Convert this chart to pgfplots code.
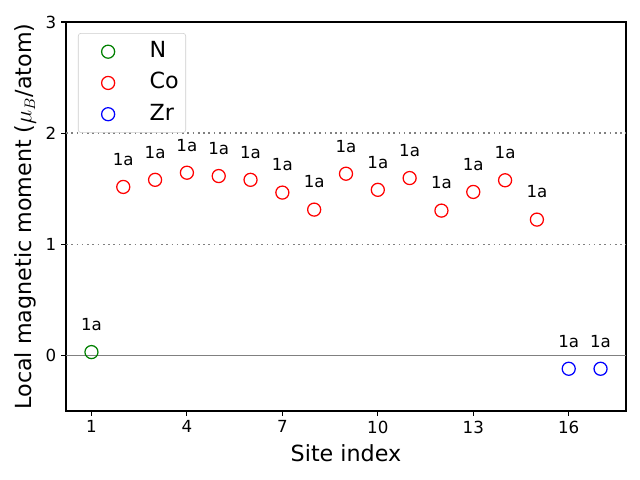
\documentclass[border=0pt]{standalone}
\usepackage{pgfplots}
\pgfplotsset{compat=1.18}
\usepackage{fontspec}
\setmainfont{DejaVu Sans}
\definecolor{mplgreen}{RGB}{0,128,0}
\pgfplotsset{mylegend/.style={legend image code/.code={\path (0cm,0cm) (1.6cm,0cm); \draw[mark repeat=2,mark phase=2] plot coordinates {(0cm,0cm)(0.6cm,0cm)(1.2cm,0cm)};}}}
\begin{document}
\begin{tikzpicture}
\path[use as bounding box] (-47.52pt,-49.68pt) rectangle (413.28pt,295.92pt);
\begin{axis}[
  at={(0,0)}, anchor=south west,
  scale only axis, width=403.2pt, height=280.08pt,
  xmin=0.2, xmax=17.8, ymin=-0.5, ymax=3,
  xtick={1,4,7,10,13,16}, ytick={0,1,2,3},
  tick align=outside, xtick pos=left, ytick pos=left,
  major tick length=3.5pt,
  tick style={black, line width=0.8pt},
  axis line style={line width=0.8pt},
  /pgf/number format/assume math mode=true,
  ticklabel style={font=\fontsize{12}{14}\selectfont},
  xlabel={Site index}, ylabel={Local magnetic moment ($\mu_B$/atom)},
  label style={font=\fontsize{16}{19}\selectfont},
  xlabel style={yshift=-1pt},
  ylabel style={yshift=0pt},
  legend style={at={(0.0214,0.9717)}, anchor=north west,
    draw=black!20, rounded corners=2pt, fill=white, fill opacity=0.8, text opacity=1,
    font=\fontsize{16}{16}\selectfont, row sep=6pt,
    inner xsep=4pt, inner ysep=5pt,
    nodes={inner sep=1pt, text height=11.5pt, text depth=3pt}},
  legend cell align=left,
  nodes near coords={1a},
  nodes near coords style={anchor=base, inner sep=0pt, yshift=15.6pt, text=black, font=\fontsize{12}{14}\selectfont},
  clip=false,
]
\draw[gray, line width=1.1pt, dash pattern=on 1.2pt off 2.6pt] (axis cs:0.2,1) -- (axis cs:17.8,1);
\draw[gray, line width=1.1pt, dash pattern=on 1.2pt off 2.6pt] (axis cs:0.2,2) -- (axis cs:17.8,2);
\draw[gray, line width=1.1pt] (axis cs:0.2,0) -- (axis cs:17.8,0);
\addplot[only marks, mylegend, mark=o, mark size=4.7pt, mplgreen, line width=0.9pt] coordinates {(1,0.03)};
\addlegendentry{N}
\addplot[only marks, mylegend, mark=o, mark size=4.7pt, red, line width=0.9pt] coordinates {
(2,1.516)(3,1.58)(4,1.644)(5,1.614)(6,1.58)(7,1.465)(8,1.312)(9,1.635)
(10,1.49)(11,1.596)(12,1.303)(13,1.471)(14,1.576)(15,1.222)};
\addlegendentry{Co}
\addplot[only marks, mylegend, mark=o, mark size=4.7pt, blue, line width=0.9pt] coordinates {(16,-0.12)(17,-0.12)};
\addlegendentry{Zr}
\end{axis}
\end{tikzpicture}
\end{document}
